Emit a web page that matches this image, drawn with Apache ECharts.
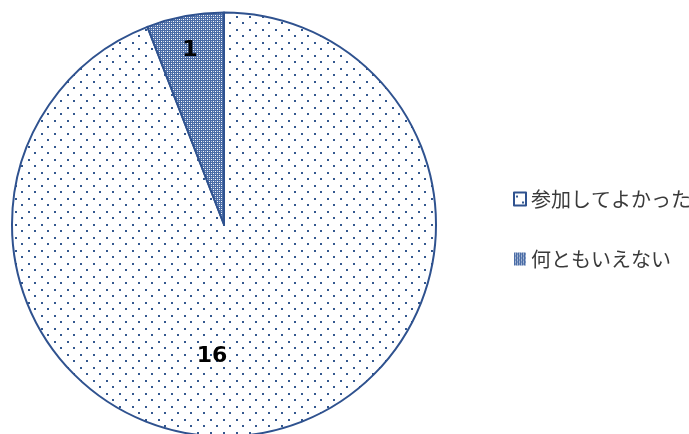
<!DOCTYPE html>
<html>
<head>
<meta charset="utf-8">
<script src="https://cdn.jsdelivr.net/npm/echarts@6/dist/echarts.min.js"></script>
<style>
  html, body { margin: 0; padding: 0; background: #fff; }
  #chart { width: 689px; height: 434px; }
</style>
</head>
<body>
<div id="chart"></div>
<script>
// Survey answers and their counts
const categories = ['参加してよかった', '何ともいえない'];
const counts = [16, 1];

const NAVY = '#2f528f';

// Sparse staggered dot fill
function dotPattern() {
  const c = document.createElement('canvas');
  c.width = 13; c.height = 13;
  const g = c.getContext('2d');
  g.fillStyle = '#ffffff';
  g.fillRect(0, 0, 13, 13);
  g.fillStyle = '#34588f';
  g.fillRect(2, 3, 2, 2);
  g.fillRect(8, 9, 2, 2);
  return c;
}

// Dense checkered fill
function checkPattern() {
  const c = document.createElement('canvas');
  c.width = 4; c.height = 4;
  const g = c.getContext('2d');
  g.fillStyle = '#4a6ca6';
  g.fillRect(0, 0, 4, 4);
  g.fillStyle = '#ffffff';
  g.fillRect(1, 1, 1, 1);
  g.fillRect(3, 3, 1, 1);
  g.fillStyle = '#b4c4de';
  g.fillRect(1, 3, 1, 1);
  g.fillRect(3, 1, 1, 1);
  return c;
}

const fills = [
  { image: dotPattern(), repeat: 'repeat' },
  { image: checkPattern(), repeat: 'repeat' }
];

// Label nudges away from the default inside position
const labelShift = [[-32, 25], [-14, -67]];

const chart = echarts.init(document.getElementById('chart'), null, { renderer: 'canvas' });

chart.setOption({
  animation: false,
  legend: {
    orient: 'vertical',
    left: 508,
    top: 184,
    itemWidth: 12,
    itemHeight: 13,
    itemGap: 40,
    icon: 'rect',
    textStyle: {
      fontFamily: '"Noto Sans CJK JP", sans-serif',
      fontSize: 20,
      color: '#3a3a3a',
      padding: [0, 0, 0, 0]
    },
    data: categories.map((name, i) => ({
      name,
      itemStyle: {
        color: fills[i],
        borderColor: i === 0 ? NAVY : 'transparent',
        borderWidth: i === 0 ? 2 : 0
      }
    }))
  },
  series: [{
    type: 'pie',
    center: [224, 224.5],
    radius: [0, 212],
    startAngle: 90,
    clockwise: true,
    avoidLabelOverlap: false,
    emphasis: { disabled: true },
    itemStyle: {
      borderColor: NAVY,
      borderWidth: 2
    },
    label: {
      show: true,
      position: 'inside',
      formatter: '{c}',
      fontFamily: '"DejaVu Sans", sans-serif',
      fontWeight: 'bold',
      fontSize: 22,
      color: '#000000'
    },
    labelLine: { show: false },
    labelLayout: function (p) {
      const s = labelShift[p.dataIndex];
      return { dx: s[0], dy: s[1] };
    },
    data: categories.map((name, i) => ({
      name,
      value: counts[i],
      itemStyle: { color: fills[i] }
    }))
  }]
});
</script>
</body>
</html>
